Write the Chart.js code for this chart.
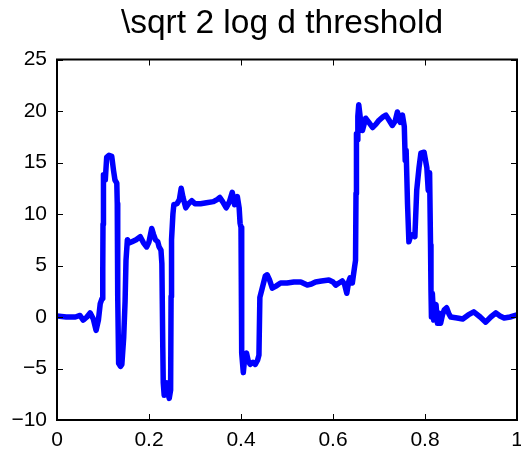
<!DOCTYPE html>
<html>
<head>
<meta charset="utf-8">
<script src="https://cdn.jsdelivr.net/npm/chart.js@4"></script>
<style>
  html, body { margin: 0; padding: 0; background: #fff; }
  canvas { display: block; }
</style>
</head>
<body>
<canvas id="thresholdChart" width="521" height="454"></canvas>
<script>
// denoised signal after sqrt(2 log d) thresholding
const xs = [
  0, 0.02, 0.04, 0.05, 0.057, 0.065, 0.072, 0.079, 0.085, 0.09,
  0.094, 0.098, 0.0995, 0.100, 0.101, 0.105, 0.108, 0.113, 0.119, 0.123,
  0.126, 0.130, 0.131, 0.132, 0.134, 0.138, 0.141, 0.145, 0.148, 0.150,
  0.153, 0.158, 0.163, 0.172, 0.181, 0.188, 0.195, 0.200, 0.206, 0.210,
  0.214, 0.219, 0.222, 0.226, 0.228, 0.230, 0.231, 0.233, 0.236, 0.239,
  0.242, 0.244, 0.247, 0.248, 0.249, 0.252, 0.254, 0.261, 0.266, 0.270,
  0.274, 0.280, 0.286, 0.293, 0.300, 0.312, 0.325, 0.340, 0.348, 0.354,
  0.360, 0.368, 0.375, 0.381, 0.386, 0.392, 0.396, 0.398, 0.400, 0.401,
  0.402, 0.405, 0.408, 0.412, 0.416, 0.420, 0.426, 0.431, 0.436, 0.439,
  0.441, 0.445, 0.449, 0.453, 0.457, 0.462, 0.468, 0.476, 0.486, 0.500,
  0.515, 0.530, 0.544, 0.553, 0.562, 0.575, 0.591, 0.600, 0.606, 0.613,
  0.620, 0.625, 0.630, 0.634, 0.637, 0.642, 0.647, 0.649, 0.650, 0.651,
  0.653, 0.654, 0.656, 0.660, 0.664, 0.671, 0.678, 0.686, 0.693, 0.700,
  0.708, 0.715, 0.722, 0.729, 0.735, 0.740, 0.746, 0.751, 0.755, 0.757,
  0.759, 0.762, 0.765, 0.769, 0.773, 0.778, 0.782, 0.787, 0.791, 0.798,
  0.804, 0.807, 0.810, 0.812, 0.813, 0.814, 0.816, 0.819, 0.821, 0.824,
  0.827, 0.830, 0.834, 0.838, 0.842, 0.847, 0.852, 0.856, 0.870, 0.882,
  0.894, 0.906, 0.920, 0.932, 0.943, 0.954, 0.963, 0.972, 0.985, 1.0
];
const ys = [
  0.1, 0.0, 0.0, 0.15, -0.3, 0.0, 0.4, -0.2, -1.3, -0.3,
  1.3, 1.8, 4.6, 9.0, 13.8, 13.3, 15.5, 15.7, 15.6, 14.2,
  13.3, 13.0, 11.0, 2.0, -4.5, -4.8, -4.6, -2.0, 1.5, 5.5,
  7.5, 7.2, 7.3, 7.5, 7.8, 7.2, 6.8, 7.3, 8.6, 8.0,
  7.5, 7.3, 6.8, 6.5, 5.2, -3.0, -6.4, -7.6, -6.8, -6.4,
  -7.5, -7.9, -7.1, 2.0, 7.5, 10.0, 10.9, 11.0, 11.4, 12.5,
  11.6, 10.6, 11.0, 11.3, 11.0, 11.0, 11.1, 11.2, 11.4, 11.6,
  11.2, 10.6, 11.2, 12.1, 10.9, 11.7, 10.6, 9.1, 8.7, 0.0,
  -3.5, -5.4, -4.0, -3.5, -4.3, -4.6, -4.4, -4.6, -4.2, -3.7,
  1.9, 2.6, 3.3, 4.0, 4.1, 3.6, 2.8, 3.0, 3.3, 3.3,
  3.4, 3.4, 3.1, 3.2, 3.4, 3.5, 3.6, 3.4, 3.1, 3.3,
  3.5, 3.2, 2.3, 3.4, 3.8, 3.3, 4.9, 5.5, 12.0, 17.8,
  17.2, 19.5, 20.6, 19.1, 18.1, 19.3, 18.9, 18.4, 18.7, 19.1,
  19.4, 19.6, 19.1, 18.6, 19.0, 19.9, 18.9, 19.6, 18.5, 15.2,
  16.2, 11.0, 7.3, 7.9, 8.0, 7.8, 12.3, 14.5, 15.9, 16.0,
  14.5, 12.3, 14.0, 7.0, 2.6, 0.0, 2.3, -0.3, 0.8, 1.2,
  -0.6, 0.4, -0.6, 0.2, 0.7, 0.9, 0.3, 0.0, -0.1, -0.2,
  0.2, 0.5, 0.0, -0.5, 0.0, 0.4, 0.1, -0.1, 0.0, 0.2
];

const xTicks = [0, 0.2, 0.4, 0.6, 0.8, 1];
const yTicks = [-10, -5, 0, 5, 10, 15, 20, 25];

const FONT = '"Liberation Sans", Arial, Helvetica, sans-serif';

// box around the axes with inward ticks on all four sides
const boxTicks = {
  id: 'boxTicks',
  afterLayout(chart) {
    // center the title over the plot instead of the whole canvas
    const t = chart.titleBlock;
    if (t) {
      t.left = chart.chartArea.left - 10;
      t.right = chart.chartArea.right;
    }
  },
  afterDraw(chart) {
    const { ctx, chartArea: a, scales } = chart;
    const len = 6;
    ctx.save();
    ctx.strokeStyle = '#000';
    ctx.lineWidth = 2;
    ctx.beginPath();
    ctx.moveTo(a.left, a.top);
    ctx.lineTo(a.right, a.top);
    ctx.lineTo(a.right, a.bottom);
    ctx.lineTo(a.left, a.bottom);
    ctx.closePath();
    ctx.stroke();
    ctx.lineWidth = 1;
    ctx.beginPath();
    scales.x.ticks.forEach(t => {
      const px = Math.round(scales.x.getPixelForValue(t.value)) + 0.5;
      ctx.moveTo(px, a.bottom); ctx.lineTo(px, a.bottom - len);
      ctx.moveTo(px, a.top); ctx.lineTo(px, a.top + len);
    });
    scales.y.ticks.forEach(t => {
      const py = Math.round(scales.y.getPixelForValue(t.value)) + 0.5;
      ctx.moveTo(a.left, py); ctx.lineTo(a.left + len, py);
      ctx.moveTo(a.right, py); ctx.lineTo(a.right - len, py);
    });
    ctx.stroke();
    ctx.restore();
  }
};

const ctx = document.getElementById('thresholdChart').getContext('2d');

const thresholdChart = new Chart(ctx, {
  type: 'line',
  data: {
    datasets: [{
      data: xs.map((x, i) => ({ x: x, y: ys[i] })),
      borderColor: '#0000ff',
      borderWidth: 5.5,
      borderJoinStyle: 'round',
      borderCapStyle: 'round',
      pointRadius: 0,
      tension: 0,
      fill: false
    }]
  },
  options: {
    responsive: false,
    animation: false,
    layout: { padding: { left: 0, right: 4, top: 0, bottom: 0 } },
    scales: {
      x: {
        type: 'linear',
        min: 0,
        max: 1,
        afterBuildTicks: s => { s.ticks = xTicks.map(v => ({ value: v })); },
        afterFit: s => { s.height = 34; s.paddingLeft = 0; s.paddingRight = 0; },
        grid: { display: false, drawTicks: false },
        border: { display: false },
        ticks: {
          color: '#000',
          padding: 8,
          maxRotation: 0,
          font: { family: FONT, size: 21 },
          callback: v => String(v)
        }
      },
      y: {
        min: -10,
        max: 25,
        afterBuildTicks: s => { s.ticks = yTicks.map(v => ({ value: v })); },
        afterFit: s => { s.width = 57; s.paddingTop = 0; s.paddingBottom = 0; },
        grid: { display: false, drawTicks: false },
        border: { display: false },
        ticks: {
          color: '#000',
          padding: 10,
          font: { family: FONT, size: 21 },
          callback: v => (v < 0 ? '\u2212' + Math.abs(v) : String(v))
        }
      }
    },
    plugins: {
      legend: { display: false },
      tooltip: { enabled: false },
      title: {
        display: true,
        text: '\\sqrt 2 log d threshold',
        color: '#000',
        font: { family: FONT, size: 33.5, weight: 'normal' },
        padding: { top: 3.2, bottom: 16.1 }
      }
    }
  },
  plugins: [boxTicks]
});
</script>
</body>
</html>
